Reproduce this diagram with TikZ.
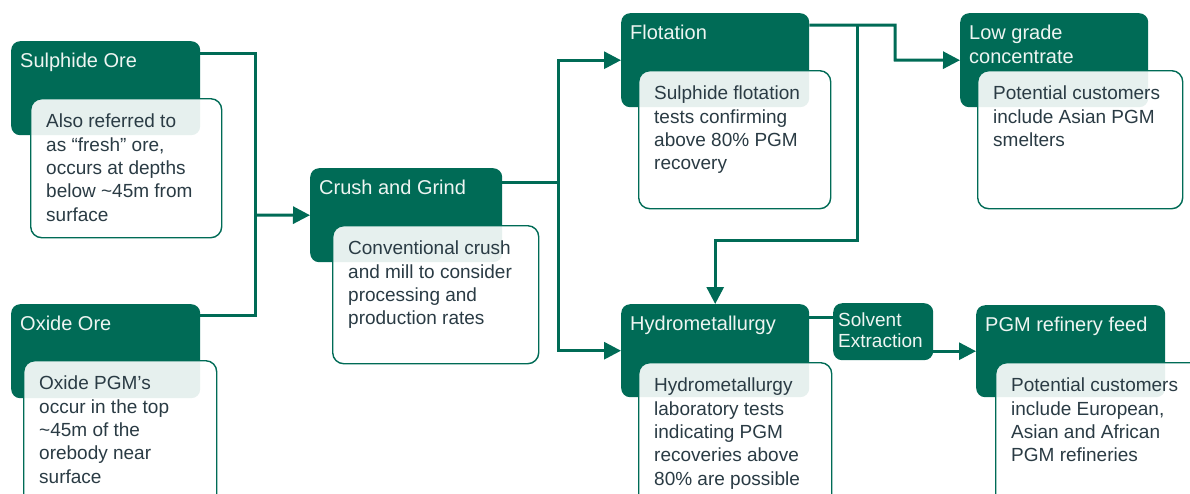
\documentclass[tikz,border=0pt]{standalone}
\usepackage{fontspec}
\setmainfont{Liberation Sans}
\usetikzlibrary{positioning,arrows.meta}
\definecolor{ggreen}{HTML}{006B56}
\definecolor{notetext}{HTML}{2A3B44}
\definecolor{headtext}{HTML}{EEF5F2}
\tikzset{
  gbox/.style = {fill=ggreen, rounded corners=9pt, inner sep=0pt, anchor=north west},
  note/.style = {draw=ggreen, line width=1.4pt, fill=white, fill opacity=0.9, rounded corners=11pt, inner sep=0pt, anchor=north west},
  headtxt/.style = {text=headtext, font=\fontsize{20}{23.5}\selectfont, inner sep=0pt, align=left},
  notetxt/.style = {text=notetext, font=\fontsize{19}{23.3}\selectfont, inner sep=0pt, align=left},
  link/.style = {draw=ggreen, line width=3pt},
  arrow/.style = {link, -{Triangle[length=17pt,width=17pt]}}
}
\begin{document}
\begin{tikzpicture}[x=1pt, y=-1pt]
        \useasboundingbox (0,0) rectangle (1190,493);
        \clip (0,0) rectangle (1190,493);
        \node[gbox, minimum width=189pt, minimum height=94pt] (sul) at (11,41) {};
        \node[gbox, minimum width=189pt, minimum height=94pt] (oxi) at (11,304) {};
        \node[gbox, minimum width=192pt, minimum height=94pt] (cru) at (310,168) {};
        \node[gbox, minimum width=188pt, minimum height=94pt] (flo) at (621,13) {};
        \node[gbox, minimum width=188pt, minimum height=94pt] (low) at (960,13) {};
        \node[gbox, minimum width=188pt, minimum height=93pt] (hyd) at (621,304) {};
        \node[gbox, minimum width=100pt, minimum height=57pt] (sol) at (833,303) {};
        \node[gbox, minimum width=189pt, minimum height=92pt] (ref) at (976,305) {};
        %
        \node[note, minimum width=191pt, minimum height=139pt] (sulnote) at (30,98) {};
        \node[note, minimum width=193pt, minimum height=170pt] (oxinote) at (23,360) {};
        \node[note, minimum width=206pt, minimum height=138pt] (crunote) at (332,225) {};
        \node[note, minimum width=192pt, minimum height=138pt] (flonote) at (638,70) {};
        \node[note, minimum width=205pt, minimum height=138pt] (lownote) at (977,70) {};
        \node[note, minimum width=193pt, minimum height=170pt] (hydnote) at (638,362) {};
        \node[note, minimum width=220pt, minimum height=170pt] (refnote) at (995,362) {};
        %
        \node[headtxt] (sulhead) [below right=12pt and 9pt of sul.north west] {Sulphide Ore};
        \node[headtxt] (oxihead) [below right=12pt and 9pt of oxi.north west] {Oxide Ore};
        \node[headtxt] (cruhead) [below right=12pt and 9pt of cru.north west] {Crush and Grind};
        \node[headtxt] (flohead) [below right=12pt and 9pt of flo.north west] {Flotation};
        \node[headtxt] (lowhead) [below right=12pt and 9pt of low.north west] {Low grade\\concentrate};
        \node[headtxt] (hydhead) [below right=12pt and 9pt of hyd.north west] {Hydrometallurgy};
        \node[headtxt, font=\fontsize{19}{21}\selectfont] (solhead) [below right=10pt and 5pt of sol.north west] {Solvent\\Extraction};
        \node[headtxt] (refhead) [below right=12pt and 9pt of ref.north west] {PGM refinery feed};
        %
        \node[notetxt] (sultxt) [below right=16pt and 16pt of sulnote.north west] {Also referred to\\as “fresh” ore,\\occurs at depths\\below \textasciitilde 45m from\\surface};
        \node[notetxt] (oxitxt) [below right=16pt and 16pt of oxinote.north west] {Oxide PGM’s\\occur in the top\\\textasciitilde 45m of the\\orebody near\\surface};
        \node[notetxt] (crutxt) [below right=16pt and 16pt of crunote.north west] {Conventional crush\\and mill to consider\\processing and\\production rates};
        \node[notetxt] (flotxt) [below right=16pt and 16pt of flonote.north west] {Sulphide flotation\\tests confirming\\above 80\% PGM\\recovery};
        \node[notetxt] (lowtxt) [below right=16pt and 16pt of lownote.north west] {Potential customers\\include Asian PGM\\smelters};
        \node[notetxt] (hydtxt) [below right=16pt and 16pt of hydnote.north west] {Hydrometallurgy\\laboratory tests\\indicating PGM\\recoveries above\\80\% are possible};
        \node[notetxt] (reftxt) [below right=16pt and 16pt of refnote.north west] {Potential customers\\include European,\\Asian and African\\PGM refineries};
        %
        \coordinate (j1) at (255,215);
        \coordinate (j2) at (558,182);
        \coordinate (j3) at (895,60);
        \coordinate (j4) at (857,240);
        \coordinate (floout) at ([yshift=-12pt]flo.north east);
        \coordinate (hydout) at ([yshift=-13pt]hyd.north east);
        %
        \draw[link] ([yshift=-12pt]sul.north east) -| (j1) |- ([yshift=-11pt]oxi.north east);
        \draw[arrow] (j1) -- (cru.west);
        \draw[link] ([yshift=-14pt]cru.north east) -- (j2);
        \draw[arrow] (j2) |- (flo.west);
        \draw[arrow] (j2) |- (hyd.west);
        \draw[arrow] (floout) -| (j3) -- (low.west);
        \draw[arrow] (floout -| j4) -- (j4) -| (hyd.north);
        \draw[link] (hydout) -- (hydout -| sol.west);
        \draw[arrow] (sol.east |- ref.west) -- (ref.west);
      \end{tikzpicture}
\end{document}
